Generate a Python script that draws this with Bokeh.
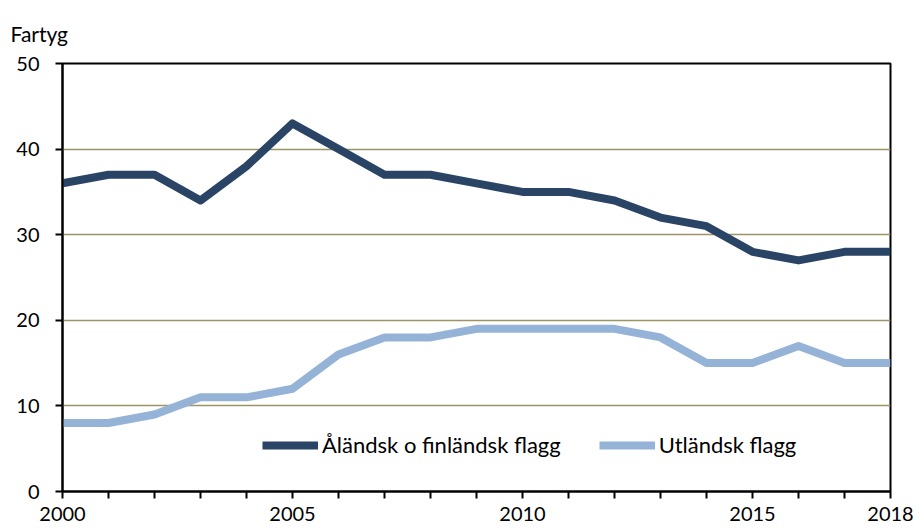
from bokeh.plotting import figure
from bokeh.models import FixedTicker, Range1d, Legend, LegendItem, Title
from bokeh.embed import file_html
from bokeh.resources import INLINE

years = list(range(2000, 2019))
aland = [36, 37, 37, 34, 38, 43, 40, 37, 37, 36, 35, 35, 34, 32, 31, 28, 27, 28, 28]
utl = [8, 8, 9, 11, 11, 12, 16, 18, 18, 19, 19, 19, 19, 18, 15, 15, 17, 15, 15]
label_years = [2000, 2005, 2010, 2015, 2018]
y_ticks = [0, 10, 20, 30, 40, 50]

FONT = "Lato"
p = figure(width=914, height=529, output_backend="svg", toolbar_location=None,
           x_range=Range1d(2000, 2018), y_range=Range1d(0, 50),
           min_border_left=62, min_border_right=24, min_border_top=63, min_border_bottom=38)

r1 = p.line(years, aland, line_color="#2A4466", line_width=8, line_join="round")
r2 = p.line(years, utl, line_color="#95B3D7", line_width=8, line_join="round")

p.xaxis.ticker = FixedTicker(ticks=years)
p.xaxis.major_label_overrides = {y: (str(y) if y in label_years else "") for y in years}
p.yaxis.ticker = FixedTicker(ticks=y_ticks)
for ax in (p.xaxis[0], p.yaxis[0]):
    ax.axis_line_color = "black"
    ax.axis_line_width = 2
    ax.major_tick_line_color = "black"
    ax.major_tick_line_width = 2
    ax.major_tick_out = 7
    ax.major_tick_in = 0
    ax.minor_tick_line_color = None
    ax.major_label_text_font = FONT
    ax.major_label_text_font_size = "20px"
    ax.major_label_text_color = "black"
p.xaxis.major_label_standoff = 8
p.yaxis.major_label_standoff = 16

p.xgrid.grid_line_color = None
p.ygrid.ticker = FixedTicker(ticks=[10, 20, 30, 40])
p.ygrid.grid_line_color = "#9C9464"
p.ygrid.grid_line_width = 1.5

p.outline_line_color = "black"
p.outline_line_width = 2
p.background_fill_color = "white"
p.border_fill_color = "white"

legend = Legend(items=[LegendItem(label="Åländsk o finländsk flagg", renderers=[r1]),
                       LegendItem(label="Utländsk flagg", renderers=[r2])],
                orientation="horizontal", location=(200, 33),
                padding=0, margin=0, spacing=38, glyph_width=56, glyph_height=24,
                label_height=24, label_standoff=4, border_line_color=None,
                background_fill_alpha=0,
                label_text_font=FONT, label_text_font_size="22px", label_text_color="black")
p.add_layout(legend, "center")

p.title = Title(text="Fartyg", align="left", offset=-52, standoff=36,
                text_font=FONT, text_font_size="21px", text_font_style="normal",
                text_color="black")

open("out.html", "w").write(file_html(p, INLINE))
